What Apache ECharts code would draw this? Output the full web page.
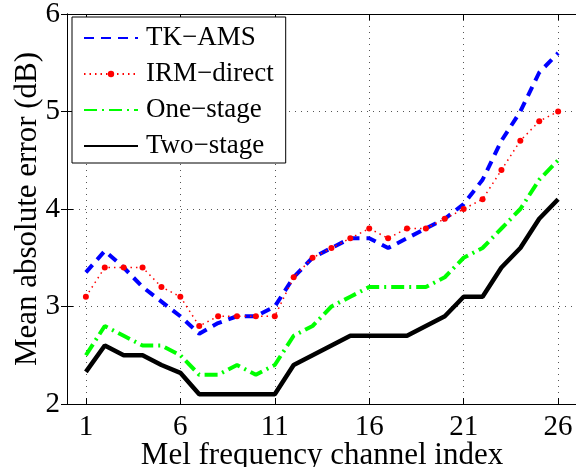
<!DOCTYPE html>
<html>
<head>
<meta charset="utf-8">
<script src="https://cdn.jsdelivr.net/npm/echarts@6/dist/echarts.min.js"></script>
<style>
html,body{margin:0;padding:0;background:#fff;}
#chart{width:576px;height:467px;}
</style>
</head>
<body>
<div id="chart"></div>
<script>
// Mel frequency channel indices
const channels = [1,2,3,4,5,6,7,8,9,10,11,12,13,14,15,16,17,18,19,20,21,22,23,24,25,26];
const tkAms    = [3.35,3.57,3.4,3.2,3.05,2.9,2.72,2.83,2.9,2.9,3.0,3.3,3.5,3.6,3.7,3.7,3.6,3.7,3.8,3.9,4.05,4.3,4.7,5.0,5.4,5.6];
const irmDirect= [3.1,3.4,3.4,3.4,3.2,3.1,2.8,2.9,2.9,2.9,2.9,3.3,3.5,3.6,3.7,3.8,3.7,3.8,3.8,3.9,4.0,4.1,4.4,4.7,4.9,5.0];
const oneStage = [2.5,2.8,2.7,2.6,2.6,2.5,2.3,2.3,2.4,2.3,2.4,2.7,2.8,3.0,3.1,3.2,3.2,3.2,3.2,3.3,3.5,3.6,3.8,4.0,4.3,4.5];
const twoStage = [2.33,2.6,2.5,2.5,2.4,2.32,2.1,2.1,2.1,2.1,2.1,2.4,2.5,2.6,2.7,2.7,2.7,2.7,2.8,2.9,3.1,3.1,3.4,3.6,3.9,4.1];
const xTicks = [1,6,11,16,21,26];
const seriesNames = ['TK\u2212AMS','IRM\u2212direct','One\u2212stage','Two\u2212stage'];

const font = "'Liberation Serif','Times New Roman',serif";
const pairs = arr => arr.map((v,i)=>[channels[i], v]);

const chart = echarts.init(document.getElementById('chart'), null, {renderer:'canvas'});
const axisLine = {show:true, lineStyle:{color:'#000', width:1}};
const gridLine = {show:true, lineStyle:{color:'#555', width:1, type:[1,5]}};
const hideSym = {opacity:0};
chart.setOption({
  animation:false,
  backgroundColor:'#fff',
  grid:{left:67, top:14, width:510, height:390, containLabel:false, outerBoundsMode:'none'},
  legend:{
    orient:'vertical', left:72, top:17,
    data:[
      {name:seriesNames[0], itemStyle:hideSym},
      {name:seriesNames[1]},
      {name:seriesNames[2], itemStyle:hideSym},
      {name:seriesNames[3], itemStyle:hideSym}
    ],
    itemWidth:54, itemHeight:8, itemGap:6,
    padding:[6,12,2,11],
    borderColor:'#000', borderWidth:1, backgroundColor:'#fff',
    textStyle:{fontFamily:font, fontSize:27, color:'#000', lineHeight:30, padding:[0,0,0,3]}
  },
  xAxis:[{
    type:'value', min:0, max:27, position:'bottom',
    axisLine:axisLine,
    axisTick:{show:true, inside:true, length:6, customValues:xTicks, lineStyle:{color:'#000'}},
    axisLabel:{show:true, customValues:xTicks, fontFamily:font, fontSize:29, color:'#000', margin:9},
    splitLine:gridLine,
    name:'Mel frequency channel index', nameLocation:'middle', nameGap:36, nameMoveOverlap:false,
    nameTextStyle:{fontFamily:font, fontSize:31, color:'#000'}
  },{
    type:'value', min:0, max:27, position:'top',
    axisLine:axisLine,
    axisTick:{show:true, inside:true, length:6, customValues:xTicks, lineStyle:{color:'#000'}},
    axisLabel:{show:false}, splitLine:{show:false}
  }],
  yAxis:[{
    type:'value', min:2, max:6, interval:1, position:'left',
    axisLine:axisLine,
    axisTick:{show:true, inside:true, length:6, lineStyle:{color:'#000'}},
    axisLabel:{fontFamily:font, fontSize:29, color:'#000', margin:7},
    splitLine:gridLine,
    name:'Mean absolute error (dB)', nameLocation:'middle', nameGap:24, nameMoveOverlap:false,
    nameTextStyle:{fontFamily:font, fontSize:31, color:'#000'}
  },{
    type:'value', min:2, max:6, interval:1, position:'right',
    axisLine:axisLine,
    axisTick:{show:true, inside:true, length:6, lineStyle:{color:'#000'}},
    axisLabel:{show:false}, splitLine:{show:false}
  }],
  series:[
    {name:seriesNames[0], type:'line', data:pairs(tkAms), symbol:'none',
     lineStyle:{color:'#0000ff', width:4, type:[10,7]}, itemStyle:{color:'#0000ff'}, z:2},
    {name:seriesNames[1], type:'line', data:pairs(irmDirect), symbol:'circle', symbolSize:6,
     lineStyle:{color:'#ff0000', width:1.5, type:[1.5,4]}, itemStyle:{color:'#ff0000'}, z:3},
    {name:seriesNames[2], type:'line', data:pairs(oneStage), symbol:'none',
     lineStyle:{color:'#00ff00', width:4, type:[13,5,2,5]}, itemStyle:{color:'#00ff00'}, z:4},
    {name:seriesNames[3], type:'line', data:pairs(twoStage), symbol:'none',
     lineStyle:{color:'#000000', width:4.5}, itemStyle:{color:'#000000'}, z:5}
  ]
});
</script>
</body>
</html>
